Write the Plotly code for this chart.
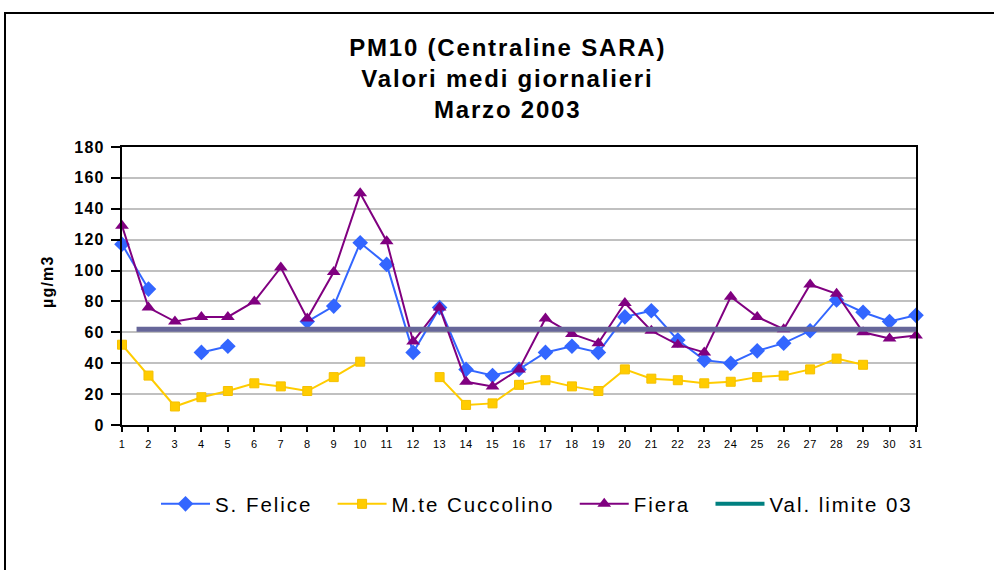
import plotly.graph_objects as go

days = list(range(1, 32))
s_felice = [117, 88, None, 47, 51, None, None, 67, 77, 118, 104, 47, 76, 36, 32, 36,
            47, 51, 47, 70, 74, 55, 42, 40, 48, 53, 61, 81, 73, 67, 71]
cuccolino = [52, 32, 12, 18, 22, 27, 25, 22, 31, 41, None, None, 31, 13, 14, 26,
             29, 25, 22, 36, 30, 29, 27, 28, 31, 32, 36, 43, 39, None, None]
fiera = [129, 76, 67, 70, 70, 80, 102, 69, 99, 150, 119, 54, 76, 28, 25, 36,
         69, 59, 53, 79, 61, 52, 47, 83, 70, 62, 91, 85, 60, 56, 58]
limit_value = 62
limit_span = [1.55, 31.2]

series_names = ["S. Felice", "M.te Cuccolino", "Fiera", "Val. limite 03"]
title_lines = ["PM10 (Centraline SARA)", "Valori medi giornalieri", "Marzo 2003"]
y_ticks = [0, 20, 40, 60, 80, 100, 120, 140, 160, 180]

FONT = "Liberation Sans, Arial, sans-serif"
PAD = "\u00a0\u00a0"  # spacing after legend entries

fig = go.Figure()
fig.add_trace(go.Scatter(x=days, y=s_felice, name=series_names[0] + PAD, mode="lines+markers",
                         line=dict(color="#3366ff", width=2),
                         marker=dict(symbol="diamond", size=12, color="#3366ff"),
                         cliponaxis=False))
fig.add_trace(go.Scatter(x=days, y=cuccolino, name=series_names[1] + PAD, mode="lines+markers",
                         line=dict(color="#ffcc00", width=2),
                         marker=dict(symbol="square", size=9, color="#ffcc00",
                                     line=dict(color="#f5c000", width=1)),
                         cliponaxis=False))
fig.add_trace(go.Scatter(x=days, y=fiera, name=series_names[2] + PAD, mode="lines+markers",
                         line=dict(color="#800080", width=2),
                         marker=dict(symbol="triangle-up", size=12, color="#800080"),
                         cliponaxis=False))
fig.add_trace(go.Scatter(x=limit_span, y=[limit_value, limit_value], mode="lines",
                         line=dict(color="#666699", width=5), showlegend=False,
                         cliponaxis=False, hoverinfo="skip"))
fig.add_trace(go.Scatter(x=[None], y=[None], name=series_names[3], mode="lines",
                         line=dict(color="#008080", width=4)))

annotations = []
title_y = [47, 78.5, 110]
for t, py in zip(title_lines, title_y):
    annotations.append(dict(text="<b>%s</b>" % t, x=0.485, xref="paper",
                            y=(425 - py) / 278, yref="paper", showarrow=False,
                            font=dict(family=FONT, size=24, color="black"),
                            xanchor="center", yanchor="middle"))
annotations.append(dict(text="<b>µg/m3</b>", x=(47 - 122) / 794, xref="paper",
                        y=(425 - 282) / 278, yref="paper",
                        showarrow=False, textangle=-90,
                        font=dict(family=FONT, size=16, color="black"),
                        xanchor="center", yanchor="middle"))

fig.update_layout(
    width=994, height=570,
    margin=dict(l=122, r=78, t=147, b=145),
    paper_bgcolor="white", plot_bgcolor="white",
    font=dict(family=FONT, color="black"),
    showlegend=True,
    legend=dict(orientation="h", x=(156 - 122) / 794, y=(425 - 504) / 278,
                xanchor="left", yanchor="middle",
                font=dict(family=FONT, size=20.5, color="black"),
                itemwidth=49, tracegroupgap=0, bgcolor="rgba(0,0,0,0)"),
    annotations=annotations,
    shapes=[dict(type="rect", xref="paper", yref="paper",
                 x0=(5 - 122) / 794, x1=(1010 - 122) / 794,
                 y0=(425 - 590) / 278, y1=(425 - 13) / 278,
                 line=dict(color="black", width=2), layer="below")],
)
fig.update_xaxes(range=[1, 31], tickmode="array", tickvals=days,
                 ticktext=[str(d) for d in days], showgrid=False, zeroline=False,
                 showline=True, mirror=True, linecolor="black", linewidth=2,
                 ticks="outside", ticklen=5, tickcolor="black", tickwidth=2,
                 ticklabelstandoff=3,
                 tickfont=dict(family=FONT, size=11, color="black"))
fig.update_yaxes(range=[0, 180], tickmode="array", tickvals=y_ticks,
                 ticktext=["<b>%d</b>" % v for v in y_ticks],
                 showgrid=True, gridcolor="#c0c0c0", gridwidth=1.5, zeroline=False,
                 showline=True, mirror=True, linecolor="black", linewidth=2,
                 ticks="outside", ticklen=9, tickcolor="black", tickwidth=2,
                 ticklabelstandoff=3,
                 tickfont=dict(family=FONT, size=16, color="black"))

post = """
document.body.style.margin='0';
var st=document.createElement('style');
st.textContent='.legendtext{letter-spacing:0.095em}.annotation-text{letter-spacing:0.075em}.ytick text{letter-spacing:0.08em}.xtick text{letter-spacing:0.05em}';
document.head.appendChild(st);
var gd=document.getElementById('{plot_id}');
Plotly.relayout(gd, {'legend.font.size': 20.51});
"""
fig.write_html("out.html", post_script=post, config={"displayModeBar": False})
